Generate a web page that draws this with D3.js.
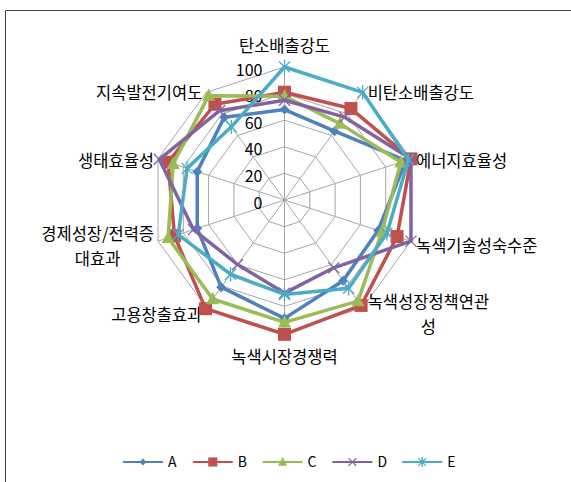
<!DOCTYPE html>
<html>
<head>
<meta charset="utf-8">
<script src="https://cdn.jsdelivr.net/npm/d3@7"></script>
<style>
  body { margin: 0; background: #fff; }
  text { font-family: "Noto Sans CJK KR", "Noto Sans", sans-serif; fill: #000; }
</style>
</head>
<body>
<div id="chart"></div>
<script>
// axis names (clockwise from top)
var categories = ["탄소배출강도", "비탄소배출강도", "에너지효율성", "녹색기술성숙수준", "녹색성장정책연관성",
                  "녹색시장경쟁력", "고용창출효과", "경제성장/전력증대효과", "생태효율성", "지속발전기여도"];
var seriesNames = ["A", "B", "C", "D", "E"];
var valuesA = [68, 64, 96, 74, 75, 89, 81, 69, 69, 77];
var valuesB = [81, 85, 100, 89, 98, 101, 101, 87, 92, 89];
var valuesC = [78, 71, 92, 77, 94, 92, 92, 92, 88, 97];
var valuesD = [75, 77, 100, 100, 63, 70, 60, 72, 99, 83];
var valuesE = [100, 100, 98, 81, 82, 71, 69, 84, 77, 68];
var tickValues = [0, 20, 40, 60, 80, 100];

var W = 571, H = 482;
var cx = 284.5, cy = 200, radius = 133;
var colors = ["#4F81BD", "#C0504D", "#9BBB59", "#8064A2", "#4BACC6"];
var shapes = ["diamond", "square", "triangle", "x", "star"];

var data = [valuesA, valuesB, valuesC, valuesD, valuesE].map(function(v, i) {
    return {name: seriesNames[i], values: v, color: colors[i], shape: shapes[i]};
});

var total = categories.length,
    angleSlice = Math.PI * 2 / total;

var rScale = d3.scaleLinear().domain([0, 100]).range([0, radius]);

function pt(i, v) {
    var a = angleSlice * i;
    return [cx + rScale(v) * Math.sin(a), cy - rScale(v) * Math.cos(a)];
}

var svg = d3.select("#chart").append("svg")
    .attr("width", W)
    .attr("height", H);

// frame (cut by the picture edge)
svg.append("path")
    .attr("d", "M5.5," + H + "V10.5H" + W)
    .style("fill", "none")
    .style("stroke", "#444")
    .style("stroke-width", 1);

var g = svg.append("g");

// grid rings
g.selectAll(".ring")
    .data(tickValues.slice(1))
    .enter().append("polygon")
    .attr("points", function(v) {
        return d3.range(total).map(function(i) { return pt(i, v).join(","); }).join(" ");
    })
    .style("fill", "none")
    .style("stroke", "#a6a6a6")
    .style("stroke-width", 1);

// spokes
g.selectAll(".spoke")
    .data(categories)
    .enter().append("line")
    .attr("x1", cx).attr("y1", cy)
    .attr("x2", function(d, i) { return pt(i, 100)[0]; })
    .attr("y2", function(d, i) { return pt(i, 100)[1]; })
    .style("stroke", "#a6a6a6")
    .style("stroke-width", 1);

// tick labels along the top axis
g.selectAll(".tick")
    .data(tickValues)
    .enter().append("text")
    .attr("x", cx - 22)
    .attr("y", function(v) { return cy - rScale(v) + 3; })
    .attr("dy", "0.35em")
    .attr("text-anchor", "end")
    .style("font-size", "16px")
    .text(function(v) { return v; });

// category labels
var maxChars = 8, lineH = 25;
categories.forEach(function(name, i) {
    var lines = [];
    for (var k = 0; k < name.length; k += maxChars) lines.push(name.slice(k, k + maxChars));
    var a = angleSlice * i;
    var v = pt(i, 100);
    var sin = Math.sin(a), cos = Math.cos(a);
    var t = g.append("text")
        .attr("text-anchor", "middle")
        .style("font-size", "16.5px");
    var spans = lines.map(function(l) { return t.append("tspan").text(l); });
    var maxW = d3.max(spans, function(s) { return s.node().getComputedTextLength(); });
    var x, yc;
    if (Math.abs(sin) < 0.01) {
        x = v[0];
        yc = cos > 0 ? v[1] - 21 : v[1] + 24;
    } else if (sin > 0) {
        x = v[0] + 5 + maxW / 2;
        yc = v[1] + 4 - 4 * cos;
    } else {
        x = v[0] - 4 - maxW / 2;
        yc = v[1] + 4 - 4 * cos;
    }
    var y0 = yc - (lines.length - 1) * lineH / 2;
    spans.forEach(function(s, j) {
        s.attr("x", x).attr("y", y0 + j * lineH).attr("dy", "0.35em");
    });
});

// marker drawing
function drawMarker(sel, shape, color, s) {
    if (shape === "diamond") {
        sel.append("path").attr("d", "M0," + (-s) + "L" + s + ",0L0," + s + "L" + (-s) + ",0Z")
            .style("fill", color);
    } else if (shape === "square") {
        sel.append("rect").attr("x", -s).attr("y", -s).attr("width", 2 * s).attr("height", 2 * s)
            .style("fill", color);
    } else if (shape === "triangle") {
        sel.append("path").attr("d", "M0," + (-s * 1.1) + "L" + s + "," + (s * 0.8) + "L" + (-s) + "," + (s * 0.8) + "Z")
            .style("fill", color);
    } else if (shape === "x") {
        sel.append("path").attr("d", "M" + (-s) + "," + (-s) + "L" + s + "," + s + "M" + (-s) + "," + s + "L" + s + "," + (-s))
            .style("stroke", color).style("stroke-width", 1.3).style("fill", "none");
    } else if (shape === "star") {
        sel.append("path").attr("d", "M" + (-s) + "," + (-s) + "L" + s + "," + s + "M" + (-s) + "," + s + "L" + s + "," + (-s) +
            "M0," + (-s * 1.3) + "L0," + (s * 1.3))
            .style("stroke", color).style("stroke-width", 1.3).style("fill", "none");
    }
}
var markerSize = {diamond: 5, square: 6.5, triangle: 6.5, x: 5.5, star: 5.5};

var radarLine = d3.lineRadial()
    .curve(d3.curveLinearClosed)
    .radius(function(d) { return rScale(d); })
    .angle(function(d, i) { return i * angleSlice; });

var blobs = g.selectAll(".radarWrapper")
    .data(data)
    .enter().append("g")
    .attr("class", "radarWrapper")
    .attr("transform", "translate(" + cx + "," + cy + ")");

blobs.append("path")
    .attr("d", function(d) { return radarLine(d.values); })
    .style("fill", "none")
    .style("stroke", function(d) { return d.color; })
    .style("stroke-width", "3.5px")
    .style("stroke-linejoin", "round");

blobs.each(function(d) {
    var b = d3.select(this);
    d.values.forEach(function(v, i) {
        var p = pt(i, v);
        var m = b.append("g").attr("transform", "translate(" + (p[0] - cx) + "," + (p[1] - cy) + ")");
        drawMarker(m, d.shape, d.color, markerSize[d.shape]);
    });
});

// legend
var legend = svg.append("g").attr("transform", "translate(123,462)");
var item = legend.selectAll(".item")
    .data(data)
    .enter().append("g")
    .attr("transform", function(d, i) { return "translate(" + (i * 69.8) + ",0)"; });
item.append("line")
    .attr("x1", 0).attr("x2", 40)
    .style("stroke", function(d) { return d.color; })
    .style("stroke-width", 2);
item.each(function(d) {
    var m = d3.select(this).append("g").attr("transform", "translate(20,0)");
    drawMarker(m, d.shape, d.color, markerSize[d.shape] * 0.7);
});
item.append("text")
    .attr("x", 45)
    .attr("dy", "0.35em")
    .style("font-size", "14px")
    .text(function(d) { return d.name; });
</script>
</body>
</html>
